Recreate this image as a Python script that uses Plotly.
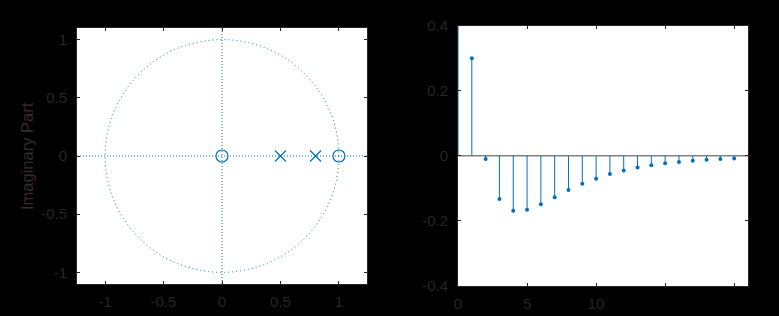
import plotly.graph_objects as go

# ---- data ----
zeros_re = [0.0, 1.0]
zeros_im = [0.0, 0.0]
poles_re = [0.5, 0.8]
poles_im = [0.0, 0.0]

n = list(range(0, 21))
h = [1.0, 0.30, -0.01, -0.133, -0.169, -0.166, -0.149, -0.127, -0.105, -0.086,
     -0.070, -0.056, -0.045, -0.036, -0.029, -0.023, -0.019, -0.015, -0.012,
     -0.010, -0.008]

zp_ticks = [-1, -0.5, 0, 0.5, 1]
zp_ticktext = ["-1", "-0.5", "0", "0.5", "1"]
st_xticks = [0, 5, 10, 15, 20]
st_xticktext = ["0", "5", "10", "", ""]
st_yticks = [-0.4, -0.2, 0, 0.2, 0.4]
st_yticktext = ["-0.4", "-0.2", "0", "0.2", "0.4"]

BLUE = "#0072BD"
TXT = "#262626"
FONT = "Liberation Sans, Arial, sans-serif"
W, H = 779, 316

fig = go.Figure()

# stems built from the data arrays
sx, sy = [], []
for xi, yi in zip(n, h):
    sx += [xi, xi, None]
    sy += [0, yi, None]
fig.add_trace(go.Scatter(x=sx, y=sy, mode="lines", line=dict(color=BLUE, width=1),
                         xaxis="x2", yaxis="y2", showlegend=False, hoverinfo="skip"))
fig.add_trace(go.Scatter(x=n, y=h, mode="markers",
                         marker=dict(color=BLUE, size=4, symbol="circle"),
                         xaxis="x2", yaxis="y2", showlegend=False))

# zeros / poles
fig.add_trace(go.Scatter(x=zeros_re, y=zeros_im, mode="markers",
                         marker=dict(symbol="circle-open", size=12, color=BLUE,
                                     line=dict(width=1.2, color=BLUE)),
                         xaxis="x", yaxis="y", showlegend=False))
fig.add_trace(go.Scatter(x=poles_re, y=poles_im, mode="markers",
                         marker=dict(symbol="x-thin-open", size=11, color=BLUE,
                                     line=dict(width=1.2, color=BLUE)),
                         xaxis="x", yaxis="y", showlegend=False))

shapes = [
    dict(type="circle", xref="x", yref="y", x0=-1, y0=-1, x1=1, y1=1,
         line=dict(color=BLUE, width=1, dash="1px,3px"), layer="below"),
    dict(type="line", xref="x domain", yref="y", x0=0, x1=1, y0=0, y1=0,
         line=dict(color=BLUE, width=1, dash="1px,2px"), layer="below"),
    dict(type="line", xref="x", yref="y domain", x0=0, x1=0, y0=0, y1=1,
         line=dict(color=BLUE, width=1, dash="1px,2px"), layer="below"),
    dict(type="line", xref="x2", yref="y2", x0=0, x1=21, y0=0, y1=0,
         line=dict(color="#808080", width=1.5), layer="below"),
]

axis_common = dict(showline=True, mirror="ticks", linecolor=TXT, linewidth=1,
                   ticks="inside", ticklen=3, tickcolor=TXT, showgrid=False,
                   zeroline=False, automargin=False,
                   tickfont=dict(family=FONT, size=15, color=TXT))

fig.update_layout(
    template="none",
    width=W, height=H,
    margin=dict(l=0, r=0, t=0, b=0, autoexpand=False),
    paper_bgcolor="black", plot_bgcolor="white",
    font=dict(family=FONT, size=15, color=TXT),
    xaxis=dict(domain=[77 / W, 367 / W], range=[-1.24, 1.24], anchor="y",
               tickvals=zp_ticks, ticktext=zp_ticktext, ticklabelstandoff=4,
               **axis_common),
    yaxis=dict(domain=[1 - 284 / H, 1 - 28 / H], range=[-1.1, 1.1], anchor="x",
               tickvals=zp_ticks, ticktext=zp_ticktext, ticklabelstandoff=6,
               **axis_common),
    xaxis2=dict(domain=[458 / W, 748 / W], range=[0, 21], anchor="y2",
                tickvals=st_xticks, ticktext=st_xticktext, ticklabelstandoff=4,
                **axis_common),
    yaxis2=dict(domain=[1 - 286 / H, 1 - 25.7 / H], range=[-0.4, 0.4], anchor="x2",
                tickvals=st_yticks, ticktext=st_yticktext, ticklabelstandoff=6,
                **axis_common),
    shapes=shapes,
    annotations=[dict(text="Imaginary Part", xref="paper", yref="paper",
                      x=27 / W, y=1 - 156 / H, xanchor="center", yanchor="middle",
                      textangle=-90, showarrow=False,
                      font=dict(family=FONT, size=16.5, color="#3a2a2a"))],
)

fig.write_html("out.html")
